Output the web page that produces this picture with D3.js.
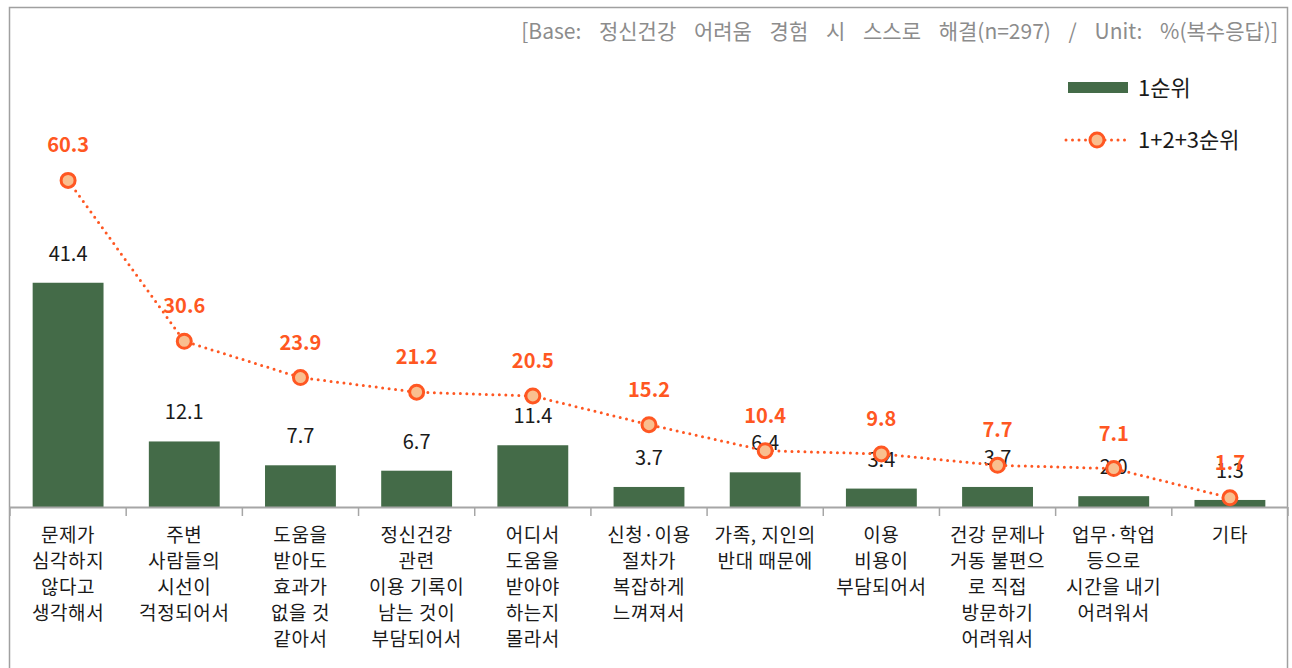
<!DOCTYPE html>
<html>
<head>
<meta charset="utf-8">
<script src="https://cdn.jsdelivr.net/npm/d3@7"></script>
<style>
  body{margin:0;background:#fff;}
  svg text{font-family:"Noto Sans CJK KR","Noto Sans",sans-serif;}
</style>
</head>
<body>
<script>
var width=1292,height=668;

// data
var categories=[
  ["문제가","심각하지","않다고","생각해서"],
  ["주변","사람들의","시선이","걱정되어서"],
  ["도움을","받아도","효과가","없을 것","같아서"],
  ["정신건강","관련","이용 기록이","남는 것이","부담되어서"],
  ["어디서","도움을","받아야","하는지","몰라서"],
  ["신청·이용","절차가","복잡하게","느껴져서"],
  ["가족, 지인의","반대 때문에"],
  ["이용","비용이","부담되어서"],
  ["건강 문제나","거동 불편으","로 직접","방문하기","어려워서"],
  ["업무·학업","등으로","시간을 내기","어려워서"],
  ["기타"]
];
var rank1=[41.4,12.1,7.7,6.7,11.4,3.7,6.4,3.4,3.7,2.0,1.3];
var rank123=[60.3,30.6,23.9,21.2,20.5,15.2,10.4,9.8,7.7,7.1,1.7];
var seriesNames=["1순위","1+2+3순위"];
var baseText="[Base: 정신건강 어려움 경험 시 스스로 해결(n=297) / Unit: %(복수응답)]";

var green="#446b48",orange="#ff5722",markFill="#f9bf8f";

var svg=d3.select("body").append("svg")
  .attr("width",width)
  .attr("height",height);

// outer frame
svg.append("rect")
  .attr("x",9.5).attr("y",7.5)
  .attr("width",1278).attr("height",680)
  .attr("fill","none")
  .attr("stroke","#a0a0a0")
  .attr("stroke-width",1.5);

svg.append("text")
  .attr("x",1278).attr("y",39)
  .attr("text-anchor","end")
  .attr("fill","#8c8c8c")
  .attr("font-size",21)
  .style("word-spacing","13px")
  .text(baseText);

var idx=d3.range(categories.length);
var xScale=d3.scaleBand()
  .domain(idx)
  .range([10,1288])
  .paddingInner(0.39)
  .paddingOuter(0.195);
var yScale=d3.scaleLinear()
  .domain([0,60])
  .range([507,182]);

// bars
svg.append("g").selectAll("rect")
  .data(rank1)
  .enter()
  .append("rect")
  .attr("x",function(d,i){return xScale(i);})
  .attr("y",function(d){return yScale(d);})
  .attr("width",xScale.bandwidth())
  .attr("height",function(d){return yScale(0)-yScale(d);})
  .attr("fill",green);

svg.append("g").selectAll("text")
  .data(rank1)
  .enter()
  .append("text")
  .attr("x",function(d,i){return xScale(i)+xScale.bandwidth()/2;})
  .attr("y",function(d){return yScale(d)-22;})
  .attr("text-anchor","middle")
  .attr("font-size",20)
  .attr("fill","#1a1a1a")
  .text(function(d){return d.toFixed(1);});

// x axis
var step=xScale.step();
var axis=svg.append("g");
axis.append("line")
  .attr("x1",10).attr("x2",1288)
  .attr("y1",507.5).attr("y2",507.5)
  .attr("stroke","#a6a6a6").attr("stroke-width",2);
axis.selectAll(".tick")
  .data(d3.range(categories.length+1))
  .enter()
  .append("line")
  .attr("x1",function(d){return 10+d*step;})
  .attr("x2",function(d){return 10+d*step;})
  .attr("y1",507).attr("y2",516)
  .attr("stroke","#a6a6a6").attr("stroke-width",1.5);

var catText=svg.append("g").selectAll("text")
  .data(categories)
  .enter()
  .append("text")
  .attr("text-anchor","middle")
  .attr("font-size",19)
  .attr("letter-spacing",0.6)
  .attr("fill","#1a1a1a");
catText.selectAll("tspan")
  .data(function(d,i){return d.map(function(s){return {s:s,i:i};});})
  .enter()
  .append("tspan")
  .attr("x",function(d){return xScale(d.i)+xScale.bandwidth()/2;})
  .attr("y",function(d,j){return 542+j*26;})
  .text(function(d){return d.s;});

// line series
var line=d3.line()
  .x(function(d,i){return xScale(i)+xScale.bandwidth()/2;})
  .y(function(d){return yScale(d);});
svg.append("path")
  .datum(rank123)
  .attr("d",line)
  .attr("fill","none")
  .attr("stroke",orange)
  .attr("stroke-width",3)
  .attr("stroke-linecap","round")
  .attr("stroke-dasharray","0,6.5");

svg.append("g").selectAll("circle")
  .data(rank123)
  .enter()
  .append("circle")
  .attr("cx",function(d,i){return xScale(i)+xScale.bandwidth()/2;})
  .attr("cy",function(d){return yScale(d);})
  .attr("r",7)
  .attr("fill",markFill)
  .attr("stroke",orange)
  .attr("stroke-width",3);

svg.append("g").selectAll("text")
  .data(rank123)
  .enter()
  .append("text")
  .attr("x",function(d,i){return xScale(i)+xScale.bandwidth()/2;})
  .attr("y",function(d){return yScale(d)-28;})
  .attr("text-anchor","middle")
  .attr("font-size",20)
  .attr("font-weight","bold")
  .attr("fill",orange)
  .text(function(d){return d.toFixed(1);});

// legend
var lg=svg.append("g");
lg.append("rect")
  .attr("x",1068).attr("y",82)
  .attr("width",60).attr("height",11)
  .attr("fill",green);
lg.append("text")
  .attr("x",1138).attr("y",96)
  .attr("font-size",22)
  .attr("fill","#1a1a1a")
  .text(seriesNames[0]);
lg.append("line")
  .attr("x1",1066).attr("x2",1128)
  .attr("y1",140).attr("y2",140)
  .attr("stroke",orange)
  .attr("stroke-width",3)
  .attr("stroke-linecap","round")
  .attr("stroke-dasharray","0,6.5");
lg.append("circle")
  .attr("cx",1097).attr("cy",140).attr("r",7)
  .attr("fill",markFill)
  .attr("stroke",orange)
  .attr("stroke-width",3);
lg.append("text")
  .attr("x",1138).attr("y",148)
  .attr("font-size",22)
  .attr("fill","#1a1a1a")
  .text(seriesNames[1]);
</script>
</body>
</html>
